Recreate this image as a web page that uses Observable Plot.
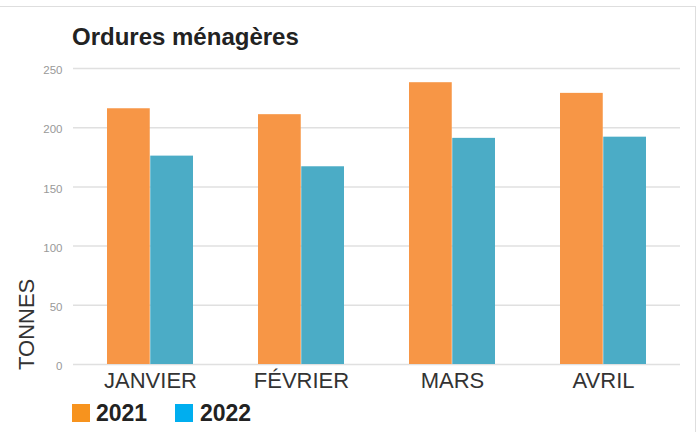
<!DOCTYPE html>
<html>
<head>
<meta charset="utf-8">
<script src="https://cdn.jsdelivr.net/npm/d3@7"></script>
<script src="https://cdn.jsdelivr.net/npm/@observablehq/plot@0.6"></script>
<style>
  html, body { margin: 0; padding: 0; background: #fff; }
  body { width: 700px; height: 432px; position: relative; overflow: hidden; font-family: "Liberation Sans", Arial, sans-serif; }
  #frame { position: absolute; left: -2px; top: 6px; width: 698px; height: 440px; border-top: 1.5px solid #dedede; border-right: 1.5px solid #dedede; box-sizing: border-box; }
  #title { position: absolute; left: 72px; top: 25px; font-size: 24px; line-height: 24px; font-weight: bold; color: #222; white-space: nowrap; }
  #chart { position: absolute; left: 0; top: 55px; }
  #ylabel { position: absolute; left: 0; top: 0; transform: translate(16px, 370px) rotate(-90deg); transform-origin: 0 0; font-size: 22px; line-height: 22px; color: #333; white-space: nowrap; }
  .sw { position: absolute; width: 18px; height: 18px; top: 404px; }
  .lt { position: absolute; top: 402px; font-size: 23px; line-height: 23px; font-weight: bold; color: #222; white-space: nowrap; }
</style>
</head>
<body>
<div id="frame"></div>
<div id="title">Ordures ménagères</div>
<div id="chart"></div>
<div id="ylabel">TONNES</div>
<div id="legend"></div>
<script>
const months = ["JANVIER", "FÉVRIER", "MARS", "AVRIL"];
const years = ["2021", "2022"];
const values2021 = [216, 211, 238, 229];
const values2022 = [176, 167, 191, 192];
const yTicks = [0, 50, 100, 150, 200, 250];
const barColors = ["#f79646", "#4bacc6"];
const legendColors = ["#f7931e", "#00aeef"];

const d2021 = months.map((m, i) => ({month: m, value: values2021[i]}));
const d2022 = months.map((m, i) => ({month: m, value: values2022[i]}));

const width = 700, marginLeft = 73, marginRight = 20;
const pi = 0.43, po = 0.215;
const step = (width - marginLeft - marginRight) / (months.length - pi + 2 * po);
const half = step * (1 - pi) / 2;

const chart = Plot.plot({
  width,
  height: 345,
  marginTop: 13,
  marginBottom: 36,
  marginLeft,
  marginRight,
  style: {fontFamily: "'Liberation Sans', Arial, sans-serif", background: "transparent"},
  x: {domain: months, paddingInner: pi, paddingOuter: po, axis: null},
  y: {domain: [0, 250], axis: null},
  marks: [
    Plot.ruleY(yTicks, {stroke: "#e0e0e0", strokeWidth: 1.5}),
    Plot.barY(d2021, {x: "month", y: "value", fill: barColors[0], insetRight: half}),
    Plot.barY(d2022, {x: "month", y: "value", fill: barColors[1], insetLeft: half}),
    Plot.axisY({ticks: yTicks, tickSize: 0, tickPadding: 11, fontSize: 11.5, fill: "#999", dy: 2, label: null}),
    Plot.axisX({anchor: "bottom", tickSize: 0, tickPadding: 8, fontSize: 22, fill: "#333", label: null})
  ]
});
document.getElementById("chart").appendChild(chart);

const legend = document.getElementById("legend");
const swX = [72, 175], txX = [96, 200];
years.forEach((y, i) => {
  const s = document.createElement("div");
  s.className = "sw";
  s.style.left = swX[i] + "px";
  s.style.background = legendColors[i];
  legend.appendChild(s);
  const t = document.createElement("div");
  t.className = "lt";
  t.style.left = txX[i] + "px";
  t.textContent = y;
  legend.appendChild(t);
});
</script>
</body>
</html>
